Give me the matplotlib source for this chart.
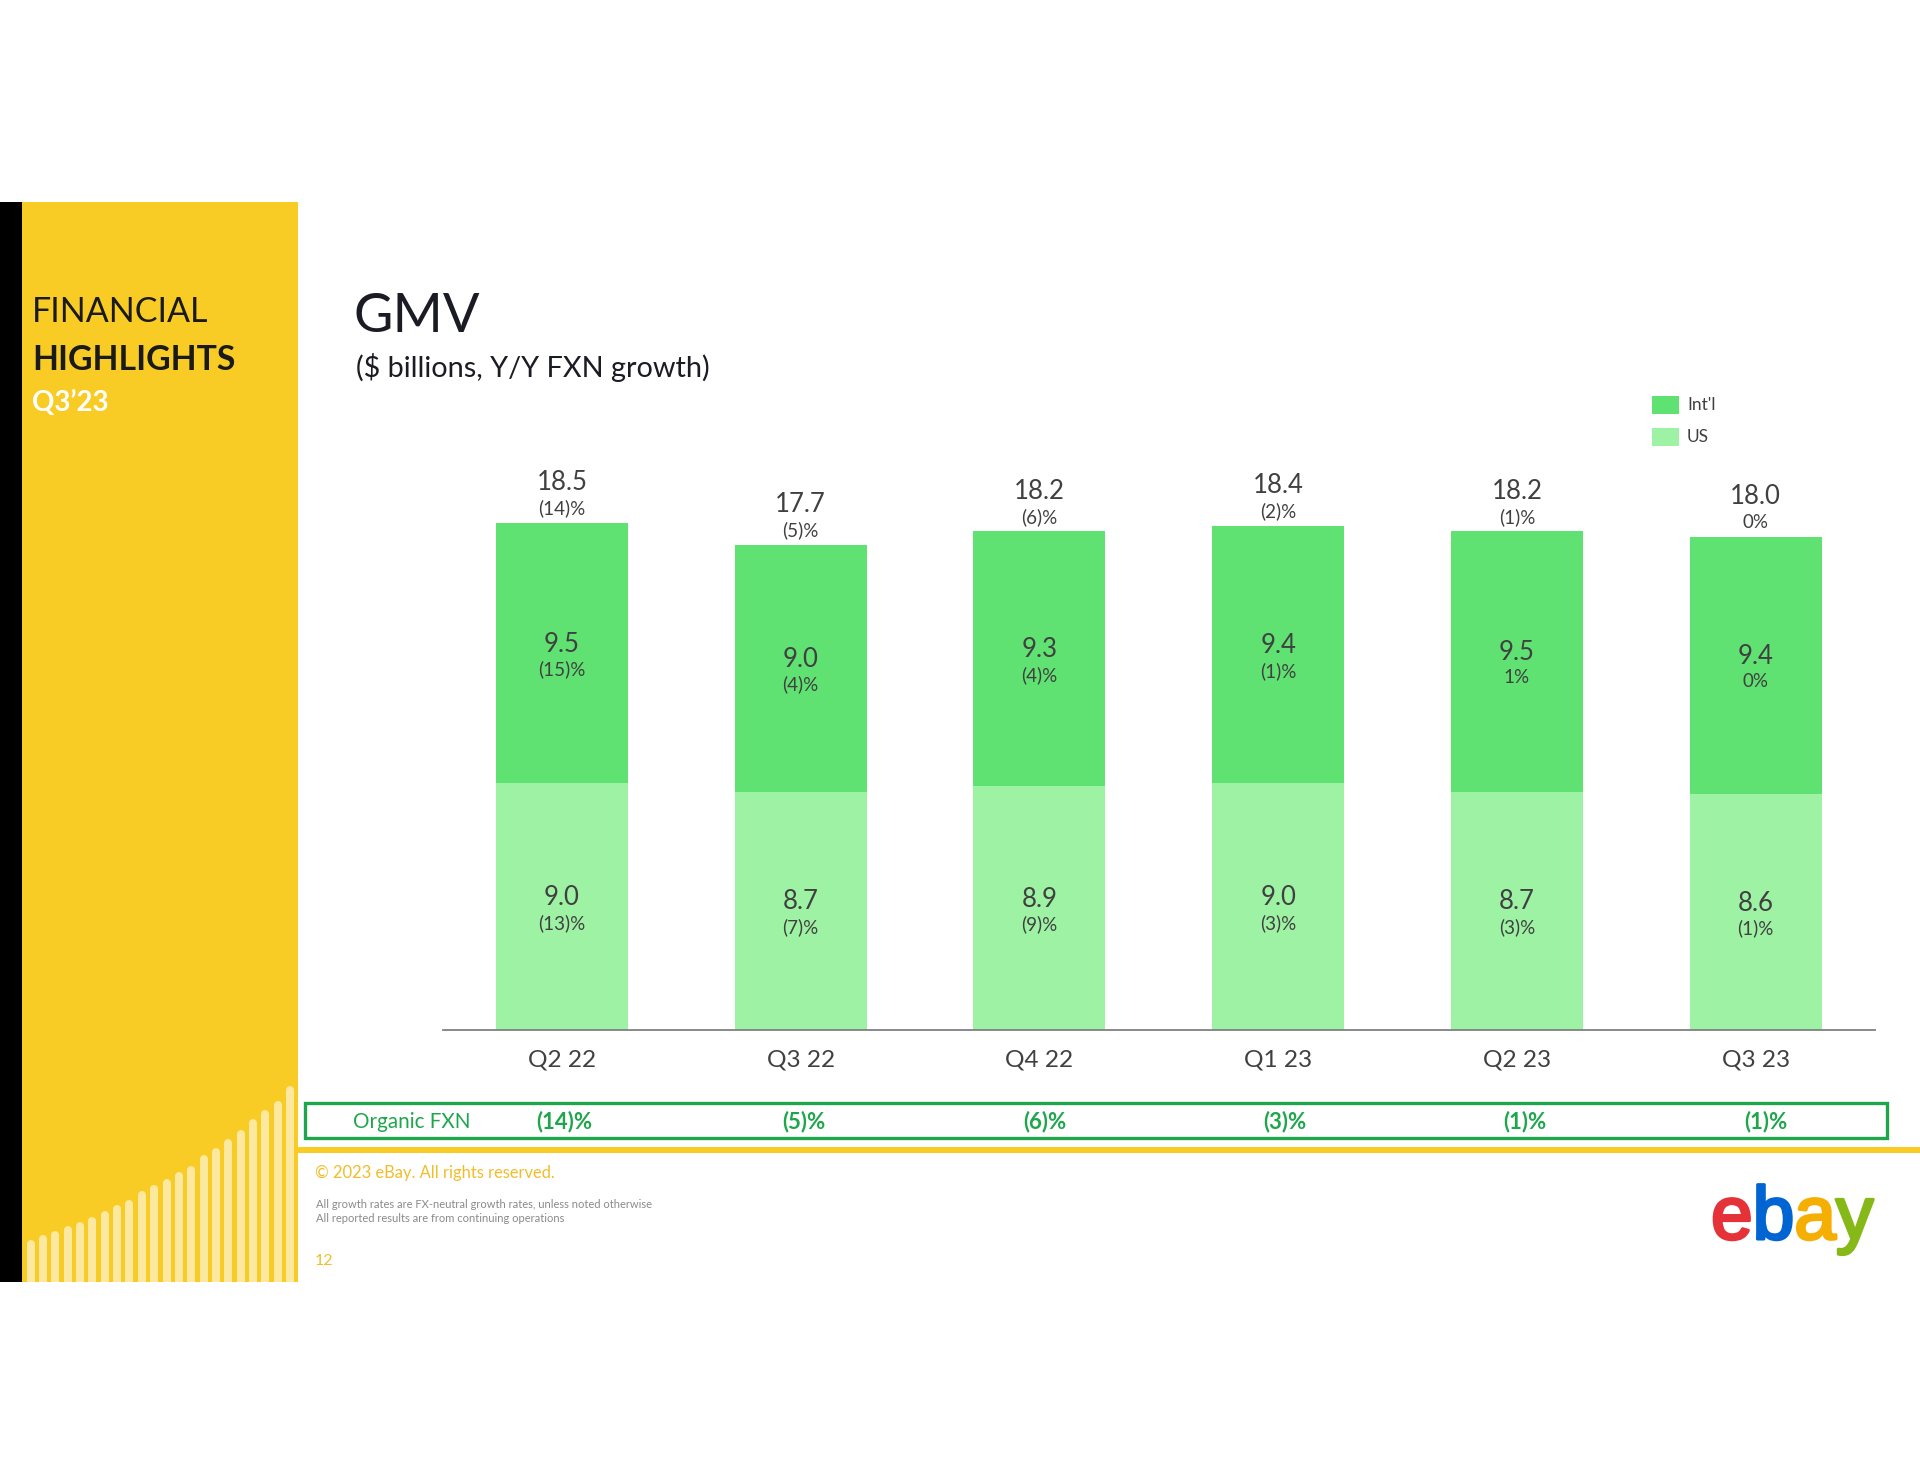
import matplotlib
matplotlib.use("Agg")
import matplotlib.pyplot as plt
from matplotlib.patches import Rectangle
import matplotlib.patheffects as pe

# ---------------- data ----------------
quarters = ["Q2 22", "Q3 22", "Q4 22", "Q1 23", "Q2 23", "Q3 23"]
us_gmv = [9.0, 8.7, 8.9, 9.0, 8.7, 8.6]
intl_gmv = [9.5, 9.0, 9.3, 9.4, 9.5, 9.4]
total_gmv = [18.5, 17.7, 18.2, 18.4, 18.2, 18.0]
total_growth = ["(14)%", "(5)%", "(6)%", "(2)%", "(1)%", "0%"]
intl_growth = ["(15)%", "(4)%", "(4)%", "(1)%", "1%", "0%"]
us_growth = ["(13)%", "(7)%", "(9)%", "(3)%", "(3)%", "(1)%"]
organic_fxn = ["(14)%", "(5)%", "(6)%", "(3)%", "(1)%", "(1)%"]
series_names = ["Int'l", "US"]
# decorative bar heights of the side panel (pixels)
deco_heights = [42, 47, 51, 56, 60, 65, 71, 77, 82, 91, 97, 103, 110, 116,
                127, 134, 143, 152, 163, 172, 181, 196]

# ---------------- style ----------------
FONT = "Lato"
plt.rcParams["font.family"] = [FONT, "DejaVu Sans"]
INTL_C = "#5fe271"
US_C = "#9ef2a4"
TXT = "#404040"
DARK = "#1b1b24"
YELLOW = "#f8cc25"
GREEN = "#1fa64c"

W, H = 1920, 1484
fig = plt.figure(figsize=(W / 100, H / 100), dpi=100)
fig.patch.set_facecolor("white")


def fx(x):
    return x / W


def fy(y):
    return 1 - y / H


# ---------------- left panel ----------------
fig.add_artist(Rectangle((0, fy(1282)), fx(22), (1282 - 202) / H,
                         transform=fig.transFigure, color="black", lw=0,
                         zorder=-5))
fig.add_artist(Rectangle((fx(22), fy(1282)), fx(298 - 22), (1282 - 202) / H,
                         transform=fig.transFigure, color=YELLOW, lw=0,
                         zorder=-5))
fig.text(fx(32), fy(312.5), "FINANCIAL", fontsize=24.5, color="#1a1a1a",
         va="center", ha="left")
fig.text(fx(32), fy(360.5), "HIGHLIGHTS", fontsize=24.3, fontweight="bold",
         color="#1a1a1a", va="center", ha="left")
fig.text(fx(32), fy(402.5), "Q3\u201923", fontsize=20, fontweight="bold",
         color="white", va="center", ha="left")

# decorative bars (axes in pixel units, origin at panel bottom-left)
dax = fig.add_axes([fx(22), fy(1282), fx(298 - 22), (1282 - 1060) / H])
dax.set_zorder(2)
dax.set_xlim(0, 276)
dax.set_ylim(0, 222)
dax.axis("off")
n = len(deco_heights)
for i, h in enumerate(deco_heights):
    x = 8.7 + i * ((268 - 8.7) / (n - 1))
    dax.vlines(x, -10, h - 4, color="#fce89f", lw=5.8, capstyle="round")

# ---------------- titles ----------------
fig.text(fx(354), fy(317), "GMV", fontsize=39, color=DARK, va="center",
         ha="left")
fig.text(fx(356), fy(368), "($ billions, Y/Y FXN growth)", fontsize=20.8,
         color=DARK, va="center", ha="left")

# ---------------- chart ----------------
ax = fig.add_axes([fx(442.6), fy(1030), fx(1875 - 442.6), 630 / H])
xs = list(range(len(quarters)))
bw = 0.553
ax.bar(xs, us_gmv, width=bw, color=US_C, label=series_names[1], zorder=2)
ax.bar(xs, intl_gmv, width=bw, bottom=us_gmv, color=INTL_C,
       label=series_names[0], zorder=2)
ax.set_xlim(-0.5, 5.5)
ax.set_ylim(0, 630 / 27.4)
for s in ["top", "right", "left"]:
    ax.spines[s].set_visible(False)
ax.spines["bottom"].set_color("#808080")
ax.spines["bottom"].set_linewidth(1.3)
ax.set_yticks([])
ax.set_xticks(xs)
ax.set_xticklabels(quarters, fontsize=17.6, color=TXT)
ax.tick_params(axis="x", length=0, pad=14)

VAL_FS = 18.5
PCT_FS = 13.5
for i in xs:
    t = total_gmv[i]
    ax.annotate(f"{t:.1f}", (i, t), xytext=(0, 29), textcoords="offset points",
                ha="center", va="center", fontsize=VAL_FS, color=TXT)
    ax.annotate(total_growth[i], (i, t), xytext=(0, 10.5),
                textcoords="offset points", ha="center", va="center",
                fontsize=PCT_FS, color=TXT)
    mid_i = us_gmv[i] + intl_gmv[i] / 2
    ax.annotate(f"{intl_gmv[i]:.1f}", (i, mid_i), xytext=(0, 6.4),
                textcoords="offset points", ha="center", va="center",
                fontsize=VAL_FS, color=TXT)
    ax.annotate(intl_growth[i], (i, mid_i), xytext=(0, -11.6),
                textcoords="offset points", ha="center", va="center",
                fontsize=PCT_FS, color=TXT)
    mid_u = us_gmv[i] / 2
    ax.annotate(f"{us_gmv[i]:.1f}", (i, mid_u), xytext=(0, 6.4),
                textcoords="offset points", ha="center", va="center",
                fontsize=VAL_FS, color=TXT)
    ax.annotate(us_growth[i], (i, mid_u), xytext=(0, -11.6),
                textcoords="offset points", ha="center", va="center",
                fontsize=PCT_FS, color=TXT)

# legend (manual)
for k, (name, col) in enumerate(zip(series_names, [INTL_C, US_C])):
    yc = 405 + k * 32
    fig.add_artist(Rectangle((fx(1652), fy(yc + 9)), fx(27), 18 / H,
                             transform=fig.transFigure, color=col, lw=0))
    fig.text(fx(1687), fy(yc), name, fontsize=12.5, color=TXT, va="center",
             ha="left")

# ---------------- organic FXN box ----------------
fig.add_artist(Rectangle((fx(305), fy(1138)), fx(1887 - 305), 35 / H,
                         transform=fig.transFigure, fill=False,
                         edgecolor=GREEN, lw=2.4))
fig.text(fx(353), fy(1122), "Organic FXN", fontsize=14.9, color=GREEN,
         va="center", ha="left")
for i, v in enumerate(organic_fxn):
    xd = ax.transData.transform((i, 0))[0]
    xfig = fig.transFigure.inverted().transform((xd, 0))[0]
    fig.text(xfig + fx(2 + 1.6 * i), fy(1122), v, fontsize=16,
             fontweight="bold", color=GREEN, va="center", ha="center")

# ---------------- footer ----------------
fig.add_artist(Rectangle((fx(298), fy(1153)), 1 - fx(298), 6 / H,
                         transform=fig.transFigure, color=YELLOW, lw=0))
fig.text(fx(315), fy(1173), "\u00a9 2023 eBay. All rights reserved.",
         fontsize=11.9, color="#f2bd2a", va="center", ha="left")
fig.text(fx(316), fy(1204),
         "All growth rates are FX-neutral growth rates, unless noted otherwise",
         fontsize=8, color="#8a8a8a", va="center", ha="left")
fig.text(fx(316), fy(1218), "All reported results are from continuing operations",
         fontsize=8, color="#8a8a8a", va="center", ha="left")
fig.text(fx(315), fy(1261), "12", fontsize=11.5, color="#f2bd2a", va="center",
         ha="left")

# eBay logo: letters placed side by side at their natural advances
logo = [("e", "#e53238"), ("b", "#0064d2"), ("a", "#f5af02"), ("y", "#86b817")]
renderer = fig.canvas.get_renderer()
xpos = 1711
for ch, col in logo:
    t = fig.text(fx(xpos), fy(1239), ch, fontsize=54, color=col, ha="left",
                 va="baseline", family="Liberation Sans",
                 path_effects=[pe.withStroke(linewidth=2.2, foreground=col)])
    bb = t.get_window_extent(renderer=renderer)
    xpos += bb.width

fig.savefig("out.png", dpi=100, facecolor="white")
